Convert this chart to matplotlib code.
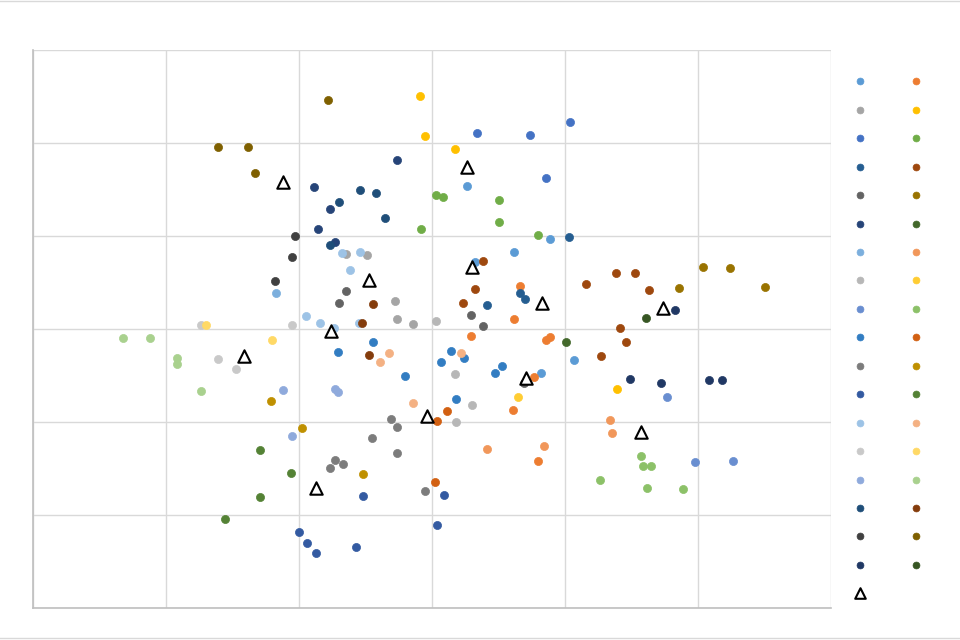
import matplotlib
matplotlib.use('Agg')
import matplotlib.pyplot as plt
from matplotlib.lines import Line2D

# point groups (x, y), grid step = 10
x01 = [2.6, 3.2, 6.2, 8.9, 10.7, 8.2]
y01 = [15.4, 7.2, 8.3, 9.7, -3.3, -4.7]
x02 = [2.9, 6.6, 6.2, 8.6, 8.9, 7.7, 6.1, 8.0]
y02 = [-0.8, 4.6, 1.1, -1.2, -0.9, -5.2, -8.7, -14.2]
x03 = [-6.5, -4.9, -2.8, -2.6, -1.4]
y03 = [8.1, 8.0, 3.0, 1.1, 0.5]
x04 = [-0.9, -0.5, 1.7, 13.9]
y04 = [25.1, 20.8, 19.4, -6.5]
x05 = [3.4, 7.4, 10.4, 8.6]
y05 = [21.1, 20.9, 22.3, 16.2]
x06 = [0.3, 0.8, -0.8, 5.0, 5.0, 8.0]
y06 = [14.4, 14.2, 10.8, 13.9, 11.5, 10.1]
x07 = [4.1, 6.6, 7.0, 10.3]
y07 = [2.6, 3.9, 3.2, 9.9]
x08 = [3.8, 3.2, 2.3, 11.6, 13.8, 15.3, 16.3, 14.1, 14.6, 12.7]
y08 = [7.3, 4.3, 2.8, 4.8, 6.0, 6.0, 4.2, 0.1, -1.4, -2.9]
x09 = [2.9, 3.8, 6.9, -6.5, -7.0]
y09 = [1.5, 0.3, -5.8, 4.1, 2.8]
x10 = [18.6, 20.4, 22.4, 25.0]
y10 = [4.4, 6.7, 6.6, 4.5]
x11 = [-8.9, -7.7, -8.6, -7.3, -2.6]
y11 = [15.3, 12.9, 10.8, 9.4, 18.2]
x12 = [10.1]
y12 = [-1.4]
x13 = [-11.7]
y13 = [3.9]
x14 = [4.1, 13.4, 13.5, 8.4]
y14 = [-12.9, -9.8, -11.2, -12.6]
x15 = [0.3, 1.7, 3.0, 1.8]
y15 = [0.9, -4.8, -8.2, -10.0]
x16 = [6.5]
y16 = [-7.3]
x17 = [17.7, 19.8, 22.6]
y17 = [-7.3, -14.3, -14.2]
x18 = [15.7, 15.9, 16.5, 16.2, 18.9, 12.6]
y18 = [-13.7, -14.7, -14.7, -17.1, -17.2, -16.2]
x19 = [-4.4, -7.1, -2.0, 1.4, 2.4, 0.7, 4.7, 1.8, 5.3]
y19 = [-1.4, -2.5, -5.1, -2.4, -3.1, -3.5, -4.7, -7.5, -4.0]
x20 = [1.1, 0.4, 0.2]
y20 = [-8.8, -9.9, -16.5]
x21 = [-3.1, -2.6, -4.5, -2.6, -7.3, -7.7, -6.7, -0.5]
y21 = [-9.7, -10.5, -11.7, -13.3, -14.1, -14.9, -14.5, -17.4]
x22 = [-12.1, -9.8, -5.2]
y22 = [-7.7, -10.6, -15.6]
x23 = [-10.0, -9.4, -8.7, -5.7, -5.2, 0.9, 0.4]
y23 = [-21.8, -23.0, -24.1, -23.4, -18.0, -17.8, -21.1]
x24 = [-12.9, -10.6, -12.9, -15.6]
y24 = [-13.0, -15.5, -18.1, -20.4]
x25 = [-6.8, -5.4, -6.2, -9.5, -8.4, -5.5, -7.4]
y25 = [8.2, 8.3, 6.3, 1.4, 0.6, 0.6, 0.1]
x26 = [-3.2, -3.9, -1.4, 2.2]
y26 = [-2.6, -3.5, -8.0, -2.6]
x27 = [-17.4, -10.5, -16.1, -14.7]
y27 = [0.4, 0.4, -3.2, -4.3]
x28 = [-17.0, -12.0]
y28 = [0.4, -1.2]
x29 = [-11.2, -10.5, -7.3, -7.1]
y29 = [-6.6, -11.5, -6.5, -6.8]
x30 = [-23.2, -21.2, -19.2, -19.2, -17.4]
y30 = [-1.0, -1.0, -3.1, -3.8, -6.7]
x31 = [-7.0, -5.4, -4.2, -3.5, -7.7]
y31 = [13.7, 14.9, 14.6, 11.9, 9.0]
x32 = [-4.4, -5.3, -4.7]
y32 = [2.7, 0.6, -2.8]
x33 = [-10.3, -10.5, -11.8]
y33 = [10.0, 7.7, 5.2]
x34 = [-16.1, -13.8, -13.3, -7.8]
y34 = [19.6, 19.6, 16.8, 24.6]
x35 = [14.9, 17.2, 20.8, 21.8, 18.3]
y35 = [-5.4, -5.8, -5.5, -5.5, 2.0]
x36 = [16.1]
y36 = [1.2]

# centres (triangles)
cx = [-11.2, 2.6, 3.0, -4.7, 8.3, 17.4, -7.6, -14.1, 7.1, -0.4, 15.7, -8.7]
cy = [15.8, 17.4, 6.7, 5.3, 2.8, 2.3, -0.2, -2.9, -5.3, -9.4, -11.1, -17.1]

xs = [x01, x02, x03, x04, x05, x06, x07, x08, x09, x10, x11, x12,
      x13, x14, x15, x16, x17, x18, x19, x20, x21, x22, x23, x24,
      x25, x26, x27, x28, x29, x30, x31, x32, x33, x34, x35, x36]
ys = [y01, y02, y03, y04, y05, y06, y07, y08, y09, y10, y11, y12,
      y13, y14, y15, y16, y17, y18, y19, y20, y21, y22, y23, y24,
      y25, y26, y27, y28, y29, y30, y31, y32, y33, y34, y35, y36]

colors = ['#5B9BD5', '#ED7D31', '#A5A5A5', '#FFC000', '#4472C4', '#70AD47',
          '#255E91', '#9E480E', '#636363', '#997300', '#264478', '#43682B',
          '#7CAFDD', '#F1975A', '#B7B7B7', '#FFCD33', '#698ED0', '#8CC168',
          '#327DC2', '#D26012', '#7C7C7C', '#BF9000', '#335AA1', '#548235',
          '#9DC3E6', '#F4B183', '#C9C9C9', '#FFD966', '#8FAADC', '#A9D18E',
          '#1F4E79', '#843C0C', '#404040', '#7F6000', '#203864', '#375623']

fig = plt.figure(figsize=(9.6, 6.4), dpi=100)
ax = fig.add_axes([33 / 960, 32 / 640, 798 / 960, 558 / 640])

handles = []
for x, y, c in zip(xs, ys, colors):
    h = ax.scatter(x, y, s=34, color=c, edgecolors=c, linewidths=0.5, zorder=3)
    handles.append(h)
tri = ax.scatter(cx, cy, s=80, marker='^', facecolors='white', edgecolors='black',
                 linewidths=1.5, zorder=4)

ax.set_xlim(-30, 30)
ax.set_ylim(-30, 30)
ax.set_xticks(range(-30, 31, 10))
ax.set_yticks(range(-30, 31, 10))
ax.tick_params(length=0, labelbottom=False, labelleft=False)
ax.grid(True, color='#D9D9D9', linewidth=1)
ax.set_axisbelow(True)
for side in ['top', 'right']:
    ax.spines[side].set_visible(False)
for side in ['left', 'bottom']:
    ax.spines[side].set_color('#BFBFBF')
    ax.spines[side].set_linewidth(1.2)

# legend is row-major in the original: odd series left column, even right
order = handles[0::2] + [tri] + handles[1::2]
fig.legend(order, [' '] * len(order), ncol=2, loc='upper left',
           bbox_to_anchor=(853 / 960, 1 - 74 / 640), frameon=False,
           handlelength=1.0, handletextpad=0.2, columnspacing=2.5,
           labelspacing=1.04, borderaxespad=0, borderpad=0, scatterpoints=1,
           markerscale=0.85)

# chart area border lines (top and bottom)
fig.add_artist(Line2D([0, 1], [0.998, 0.998], color='#D9D9D9', linewidth=1))
fig.add_artist(Line2D([0, 1], [0.003, 0.003], color='#D9D9D9', linewidth=1))

fig.savefig('out.png', dpi=100)
